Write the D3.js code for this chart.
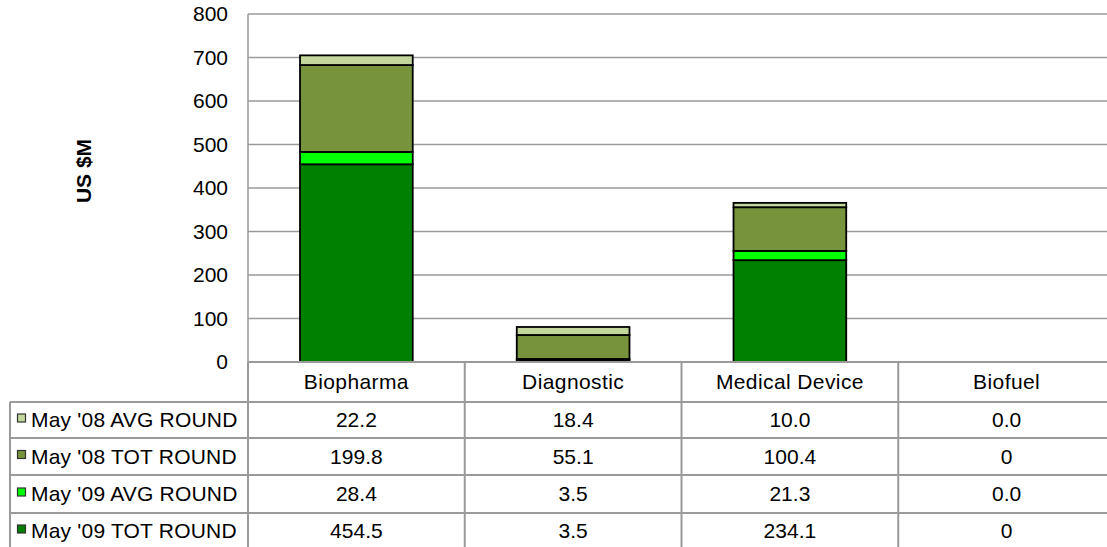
<!DOCTYPE html>
<html>
<head>
<meta charset="utf-8">
<script src="https://cdn.jsdelivr.net/npm/d3@7"></script>
<style>
  body { margin: 0; background: #fff; }
  svg { font-family: "Liberation Sans", Arial, sans-serif; }
</style>
</head>
<body>
<svg id="chart" width="1107" height="547"></svg>
<script>
// categories and series (bottom of stack first)
var categories = ["Biopharma", "Diagnostic", "Medical Device", "Biofuel"];
var may09Tot = [454.5, 3.5, 234.1, 0];
var may09Avg = [28.4, 3.5, 21.3, 0.0];
var may08Tot = [199.8, 55.1, 100.4, 0];
var may08Avg = [22.2, 18.4, 10.0, 0.0];
var yTicks = [0, 100, 200, 300, 400, 500, 600, 700, 800];

var series = [
  {name: "May '09 TOT ROUND", values: may09Tot, color: "#008000", tot: true},
  {name: "May '09 AVG ROUND", values: may09Avg, color: "#00ff00", tot: false},
  {name: "May '08 TOT ROUND", values: may08Tot, color: "#77933c", tot: true},
  {name: "May '08 AVG ROUND", values: may08Avg, color: "#c3d69b", tot: false}
];

var svg = d3.select("#chart"),
    margin = {top: 14, left: 248},
    plotBottom = 362,
    width = +svg.attr("width"),
    fs = 21,
    rowH = [40, 36, 37, 38, 36];   // header row + 4 data rows

// the plot runs past the right edge of the picture
var x = d3.scaleBand().domain(categories).range([margin.left, 1115]),
    y = d3.scaleLinear().domain([0, 800]).range([plotBottom, margin.top]);

var grey = "#9a9a9a";

// gridlines
svg.append("g")
  .selectAll("line")
  .data(yTicks)
  .enter().append("line")
    .attr("x1", margin.left).attr("x2", width)
    .attr("y1", function(d) { return y(d); })
    .attr("y2", function(d) { return y(d); })
    .attr("stroke", grey).attr("stroke-width", 1.5);

// left frame line
svg.append("line")
  .attr("x1", margin.left).attr("x2", margin.left)
  .attr("y1", y(800)).attr("y2", plotBottom)
  .attr("stroke", grey).attr("stroke-width", 1.5);

// y tick labels
svg.append("g")
  .selectAll("text")
  .data(yTicks)
  .enter().append("text")
    .attr("x", 228)
    .attr("y", function(d) { return y(d); })
    .attr("dy", "0.35em")
    .attr("text-anchor", "end")
    .attr("font-size", fs)
    .text(function(d) { return d; });

// y axis title
svg.append("text")
  .attr("transform", "translate(91,171) rotate(-90)")
  .attr("text-anchor", "middle")
  .attr("font-size", 21)
  .attr("font-weight", "bold")
  .text("US $M");

// stacked bars
var table = categories.map(function(c, i) {
  var row = {category: c};
  series.forEach(function(s) { row[s.name] = s.values[i]; });
  return row;
});
var stack = d3.stack().keys(series.map(function(s) { return s.name; }));
var layers = stack(table);
var barW = x.bandwidth() * 0.52;

svg.append("g")
  .selectAll("g")
  .data(layers)
  .enter().append("g")
    .attr("fill", function(d, i) { return series[i].color; })
  .selectAll("rect")
  .data(function(d) { return d.filter(function(p) { return p[1] - p[0] > 0; }); })
  .enter().append("rect")
    .attr("x", function(d) { return x(d.data.category) + (x.bandwidth() - barW) / 2; })
    .attr("width", barW)
    .attr("y", function(d) { return y(d[1]); })
    .attr("height", function(d) { return y(d[0]) - y(d[1]); })
    .attr("stroke", "#000")
    .attr("stroke-width", 1.8);

// data table
var rowTop = [plotBottom];
rowH.forEach(function(h, i) { rowTop.push(rowTop[i] + h); });
var tableRows = series.slice().reverse();
var tg = svg.append("g");

// horizontal lines
rowTop.slice(0, 5).forEach(function(t, i) {
  tg.append("line")
    .attr("x1", i === 0 ? margin.left : 10).attr("x2", width)
    .attr("y1", t).attr("y2", t)
    .attr("stroke", grey).attr("stroke-width", 2);
});
// vertical lines
tg.append("line").attr("x1", 10).attr("x2", 10)
  .attr("y1", rowTop[1]).attr("y2", 547)
  .attr("stroke", grey).attr("stroke-width", 2);
tg.append("line").attr("x1", margin.left).attr("x2", margin.left)
  .attr("y1", plotBottom).attr("y2", 547)
  .attr("stroke", grey).attr("stroke-width", 2);
categories.slice(1).forEach(function(c) {
  tg.append("line").attr("x1", x(c)).attr("x2", x(c))
    .attr("y1", plotBottom).attr("y2", 547)
    .attr("stroke", grey).attr("stroke-width", 2);
});

// header labels
tg.selectAll(".cat")
  .data(categories)
  .enter().append("text")
    .attr("class", "cat")
    .attr("x", function(d) { return x(d) + x.bandwidth() / 2; })
    .attr("y", (rowTop[0] + rowTop[1]) / 2)
    .attr("dy", "0.35em")
    .attr("text-anchor", "middle")
    .attr("font-size", fs)
    .attr("letter-spacing", 0.4)
    .text(function(d) { return d; });

var fmt = d3.format(".1f");
tableRows.forEach(function(s, r) {
  var cy = (rowTop[r + 1] + rowTop[r + 2]) / 2;
  tg.append("rect")
    .attr("x", 17.5).attr("y", cy - 6)
    .attr("width", 8).attr("height", 8)
    .attr("fill", s.color)
    .attr("stroke", "#333").attr("stroke-width", 1.2);
  tg.append("text")
    .attr("x", 31).attr("y", cy)
    .attr("dy", "0.35em")
    .attr("font-size", fs)
    .attr("letter-spacing", 0.2)
    .text(s.name);
  categories.forEach(function(c, i) {
    var v = s.values[i];
    tg.append("text")
      .attr("x", x(c) + x.bandwidth() / 2)
      .attr("y", cy)
      .attr("dy", "0.35em")
      .attr("text-anchor", "middle")
      .attr("font-size", fs)
      .text(s.tot && v === 0 ? "0" : fmt(v));
  });
});
</script>
</body>
</html>
